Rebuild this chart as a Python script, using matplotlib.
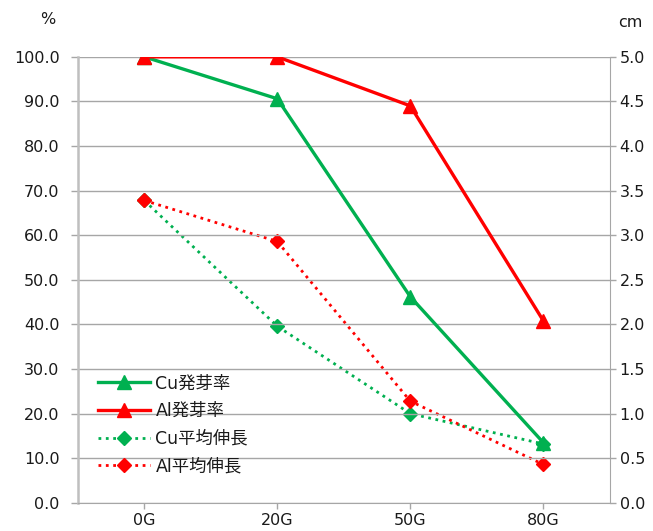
import matplotlib
matplotlib.use('Agg')
from matplotlib import pyplot as plt

plt.rcParams['font.family'] = ['DejaVu Sans', 'Noto Sans CJK JP']

categories = ['0G', '20G', '50G', '80G']
cu_rate = [100.0, 90.6, 46.2, 13.5]
al_rate = [100.0, 100.0, 89.0, 40.8]
cu_len = [3.39, 1.98, 1.00, 0.66]
al_len = [3.39, 2.93, 1.14, 0.43]

green = '#00B050'
red = '#FF0000'
grid_grey = '#A6A6A6'
axis_grey = '#BFBFBF'
txt = '#1A1A1A'

fig = plt.figure(figsize=(6.53, 5.31), dpi=100)
ax = fig.add_axes([0.119, 0.053, 0.815, 0.840])
ax2 = ax.twinx()

x = range(len(categories))
l1, = ax.plot(x, cu_rate, color=green, lw=2.4, marker='^', ms=10, label='Cu発芽率', zorder=3)
l2, = ax.plot(x, al_rate, color=red, lw=2.4, marker='^', ms=10, label='Al発芽率', zorder=3)
l3, = ax2.plot(x, cu_len, color=green, lw=2, ls=':', marker='D', ms=7, label='Cu平均伸長')
l4, = ax2.plot(x, al_len, color=red, lw=2, ls=':', marker='D', ms=7, label='Al平均伸長')

ax.set_zorder(ax2.get_zorder() + 1)
ax.patch.set_visible(False)

ax.set_xlim(-0.5, 3.5)
ax.set_ylim(0, 100)
ax2.set_ylim(0, 5)
ax.set_xticks(list(x))
ax.set_xticklabels(categories)
ax.set_yticks(range(0, 101, 10))
ax.set_yticklabels(['%.1f' % v for v in range(0, 101, 10)])
ax2.set_yticks([i * 0.5 for i in range(11)])
ax2.set_yticklabels(['%.1f' % (i * 0.5) for i in range(11)])

ax.grid(axis='y', color=grid_grey, lw=1)
ax.set_axisbelow(True)
for a in (ax, ax2):
    for s in a.spines.values():
        s.set_visible(False)
    a.tick_params(colors=grid_grey, labelcolor=txt, labelsize=11.5, length=5, width=1)
ax.spines['left'].set_visible(True)
ax.spines['left'].set_color(axis_grey)
ax.spines['left'].set_linewidth(1.8)
ax.spines['bottom'].set_visible(True)
ax.spines['bottom'].set_color(grid_grey)
ax2.spines['right'].set_visible(True)
ax2.spines['right'].set_color(grid_grey)
ax.tick_params(axis='y', pad=8)
ax2.tick_params(axis='y', length=4, pad=3)
ax.tick_params(axis='x', length=4, pad=3)

fig.text(0.073, 0.963, '%', fontsize=11.5, color=txt, ha='center', va='center')
fig.text(0.965, 0.958, 'cm', fontsize=11.5, color=txt, ha='center', va='center')

leg = ax.legend(handles=[l1, l2, l3, l4], loc='lower left', bbox_to_anchor=(0.009, 0.027),
                frameon=False, fontsize=12.5, handlelength=3.0, handletextpad=0.3,
                labelspacing=0.55)
for t in leg.get_texts():
    t.set_color(txt)

fig.savefig('out.png', dpi=100)
